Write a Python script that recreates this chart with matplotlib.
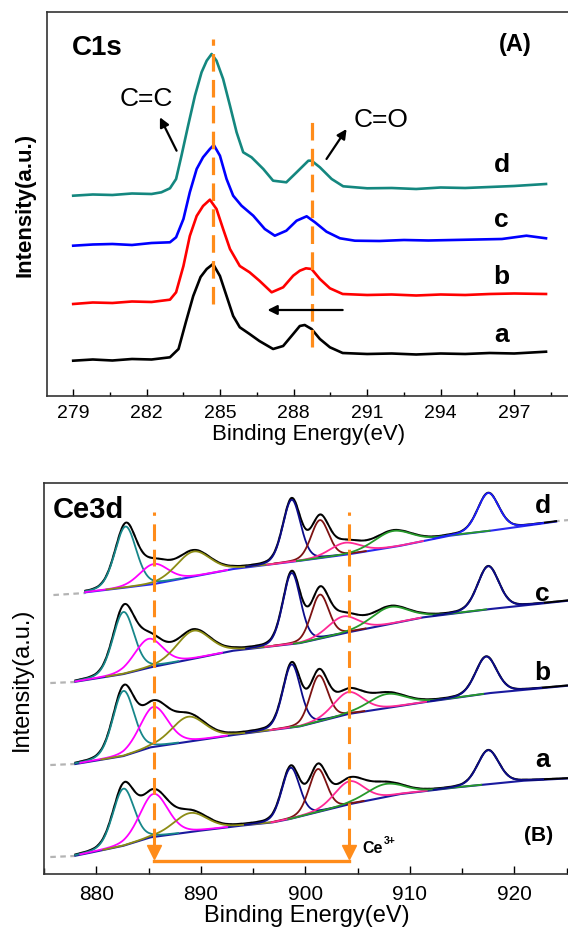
import numpy as np
import matplotlib.pyplot as plt
from matplotlib.ticker import MultipleLocator

plt.rcParams['font.family'] = ['Liberation Sans', 'DejaVu Sans']

# ---------------- (A) C1s, binding energy (eV) vs offset intensity (a.u.)
c1s_a_x = [279.0, 279.8, 280.6, 281.4, 282.2, 282.95, 283.3, 283.6, 283.9, 284.2, 284.45, 284.71,
           284.99, 285.26, 285.53, 285.8, 286.2, 286.6, 287.16, 287.57, 287.98, 288.25, 288.45,
           288.73, 289.07, 289.48, 290.0, 291.0, 292.0, 293.0, 294.0, 295.0, 296.0, 297.0, 298.3]
c1s_a_y = [35.3, 36.5, 35.5, 37.0, 36.5, 38.7, 47, 74, 100, 119, 127, 132,
           120, 100, 80, 68.7, 62, 55, 47, 50, 62, 70, 71,
           67, 57, 48.7, 43, 42, 42.5, 41.5, 42.5, 42, 43, 42.5, 44.3]

c1s_b_x = [279.0, 279.8, 280.6, 281.4, 282.2, 282.95, 283.2, 283.5, 283.76, 284.04, 284.3, 284.58,
           284.85, 285.12, 285.4, 285.8, 286.2, 286.6, 287.1, 287.57, 287.98, 288.25, 288.5,
           288.73, 289.07, 289.48, 290.0, 291.0, 292.0, 293.0, 294.0, 295.0, 296.0, 297.0, 298.3]
c1s_b_y = [92, 93.5, 93, 94.5, 94, 96.3, 103.7, 130, 160, 180, 190, 196.3,
           187, 167, 147, 130, 123.7, 115.3, 103.7, 108.7, 120.3, 125.3, 127.7,
           127, 117, 107.7, 102, 101, 101.5, 100.5, 101.5, 101, 102, 102.5, 102]

c1s_c_x = [279.0, 279.8, 280.6, 281.4, 282.2, 282.95, 283.2, 283.5, 283.76, 284.04, 284.3, 284.58,
           284.74, 284.99, 285.26, 285.53, 285.87, 286.35, 286.82, 287.23, 287.7, 288.12, 288.53,
           288.87, 289.34, 289.89, 290.5, 291.5, 292.5, 293.5, 294.5, 295.5, 296.5, 297.5, 298.3]
c1s_c_y = [150.3, 151.5, 152, 151, 153, 153.7, 158.7, 177, 203.7, 227, 238.7, 247,
           251, 240.3, 217, 200.3, 190.3, 180.3, 167, 160.3, 165.3, 175.3, 179.7,
           173.7, 164.3, 157.7, 155.3, 155, 156, 155.5, 156, 156.5, 157, 160.3, 157.7]

c1s_d_x = [279.0, 279.8, 280.6, 281.4, 282.2, 282.6, 282.95, 283.2, 283.42, 283.69, 283.97, 284.24,
           284.45, 284.65, 284.85, 285.12, 285.4, 285.67, 285.94, 286.28, 286.76, 287.16, 287.7,
           288.12, 288.6, 288.73, 289.07, 289.55, 290.02, 291.0, 292.0, 293.0, 294.0, 295.0,
           296.0, 297.0, 298.3]
c1s_d_y = [200.3, 201.5, 201, 202.5, 202, 203.7, 207.7, 217, 240.3, 270.3, 300.3, 323.7,
           335.3, 342, 335.3, 317, 290.3, 263.7, 243.7, 238.7, 227, 215.3, 213.7,
           223.7, 235.3, 235.3, 228.7, 217, 209.7, 207.7, 208, 207, 208.5, 208,
           209, 210, 212]

c1s_colors = ['black', '#ff0000', '#0000ff', '#14877f']
c1s_labels = ['a', 'b', 'c', 'd']
c1s_label_y = [62, 120, 177, 232]
c1s_marks = [284.69, 288.75]          # C=C and C=O positions
c1s_mark_top = [357, 279]
c1s_mark_bottom = [92, 49]

# ---------------- (B) Ce3d: fitted components (v, v', v'', v''', u, u', u'', u''')
ce_fwhm = [2.4, 3.2, 3.8, 2.0, 2.0, 3.4, 4.2, 2.4]
ce_lorentz = 0.2
ce_colors = ['#17878a', '#ff00ff', '#8c8c14', '#0c0c8a', '#7d1212', '#ff2a95', '#26992a', '#0c0c8a']

ce_a_centers = [882.6, 885.5, 889.0, 898.6, 901.2, 904.2, 907.6, 917.5]
ce_a_heights = [57, 43, 19, 51, 43, 23, 13, 34]
ce_a_bg_x = [878.0, 879.6, 882.6, 885.2, 889.9, 893.8, 896.9, 898.5, 901.7, 904.3, 909.1, 914.5, 920.9, 925.3]
ce_a_bg_y = [18.3, 21.7, 28.3, 36.7, 43.3, 48.3, 51.7, 55, 63.3, 70, 80, 86.7, 93.3, 95.7]

ce_b_centers = [882.6, 885.5, 888.8, 898.7, 901.3, 904.1, 907.8, 917.3]
ce_b_heights = [65, 40, 25, 63, 46, 22, 14, 37]
ce_b_bg_x = [878.0, 882.6, 885.2, 893.1, 899.5, 904.1, 911.3, 917.7, 925.3]
ce_b_bg_y = [110, 118, 126.7, 139, 147.7, 160, 171.7, 181, 188.5]

ce_c_centers = [882.6, 885.0, 889.3, 898.7, 901.4, 903.6, 908.1, 917.5]
ce_c_heights = [62, 29, 28, 71, 44, 17, 17, 43]
ce_c_bg_x = [878.0, 882.6, 885.2, 893.1, 899.5, 904.1, 911.3, 917.7, 925.3]
ce_c_bg_y = [192.3, 200, 206.7, 223.3, 231, 241.7, 256.7, 265, 273.5]

ce_d_centers = [882.8, 885.5, 889.3, 898.7, 901.4, 903.8, 908.4, 917.5]
ce_d_heights = [61, 20, 25, 62, 38, 12, 16, 38]
ce_d_bg_x = [878.95, 882.8, 885.5, 893.1, 899.5, 904.3, 909.1, 913.8, 917.7, 924.0]
ce_d_bg_y = [281.7, 286.5, 290, 305, 313.3, 320, 328.3, 338.3, 343.3, 352.5]

# raw data lead-in (gray) visible before the fits start
ce_raw_lead_x = [[875.6, 877.9], [875.6, 877.9], [875.6, 877.9], [875.9, 878.9]]
ce_raw_lead_y = [[17, 18], [109, 110], [191, 192], [279, 281]]

ce_labels = ['a', 'b', 'c', 'd']
ce_label_y = [115, 202, 281, 369]
ce3_marks = [885.55, 904.2]

fig = plt.figure(figsize=(5.68, 9.28), dpi=100)

# ======================= panel A
ax1 = fig.add_axes([0.0827, 0.5722, 0.920, 0.4138])
for xs, ys, col in zip([c1s_a_x, c1s_b_x, c1s_c_x, c1s_d_x],
                       [c1s_a_y, c1s_b_y, c1s_c_y, c1s_d_y], c1s_colors):
    ax1.plot(xs, ys, color=col, lw=1.9, solid_joinstyle='round')

for xm, yt, yb in zip(c1s_marks, c1s_mark_top, c1s_mark_bottom):
    ax1.plot([xm, xm], [yb, yt], color='#ff8c1a', lw=2.3, dashes=(5.5, 2.6), zorder=3)

for lab, ly in zip(c1s_labels, c1s_label_y):
    ax1.text(296.49, ly, lab, fontsize=19, fontweight='bold', ha='center', va='center')

ax1.text(278.95, 349, 'C1s', fontsize=20, fontweight='bold', ha='left', va='center')
ax1.text(297.03, 352, '(A)', fontsize=17, fontweight='bold', ha='center', va='center')
ax1.text(281.97, 298, 'C=C', fontsize=19, ha='center', va='center')
ax1.text(291.56, 277, 'C=O', fontsize=19, ha='center', va='center')
arw = dict(arrowstyle='-|>', color='black', lw=1.6, mutation_scale=14, shrinkA=0, shrinkB=0)
ax1.annotate('', xy=(282.54, 278.7), xytext=(283.22, 245.3), arrowprops=arw)
ax1.annotate('', xy=(290.16, 267), xytext=(289.34, 237), arrowprops=arw)
ax1.annotate('', xy=(286.93, 86), xytext=(290.0, 86), arrowprops=arw)

ax1.set_xlim(277.93, 299.26)
ax1.set_ylim(0, 384)
ax1.xaxis.set_major_locator(MultipleLocator(3))
ax1.xaxis.set_minor_locator(MultipleLocator(1.5))
ax1.set_yticks([])
ax1.tick_params(axis='x', which='major', direction='in', length=5, width=1.0, labelsize=14, pad=6)
ax1.tick_params(axis='x', which='minor', direction='in', length=3, width=1.0)
ax1.set_xlabel('Binding Energy(eV)', fontsize=16, labelpad=1)
ax1.set_ylabel('Intensity(a.u.)', fontsize=16, fontweight='bold', labelpad=8)
for sp in ax1.spines.values():
    sp.set_linewidth(1.2)
    sp.set_color('#333333')

# ======================= panel B
ax2 = fig.add_axes([0.0775, 0.0571, 0.9255, 0.4213])

spectra = [(ce_a_centers, ce_a_heights, ce_a_bg_x, ce_a_bg_y),
           (ce_b_centers, ce_b_heights, ce_b_bg_x, ce_b_bg_y),
           (ce_c_centers, ce_c_heights, ce_c_bg_x, ce_c_bg_y),
           (ce_d_centers, ce_d_heights, ce_d_bg_x, ce_d_bg_y)]

for k, (cen, hgt, bgx, bgy) in enumerate(spectra):
    e = np.linspace(bgx[0], bgx[-1], 800)
    bg = np.interp(e, bgx, bgy)
    comps = []
    for c, h, w in zip(cen, hgt, ce_fwhm):
        gauss = np.exp(-4 * np.log(2) * (e - c) ** 2 / w ** 2)
        lor = 1.0 / (1.0 + 4 * (e - c) ** 2 / w ** 2)
        comps.append(h * ((1 - ce_lorentz) * gauss + ce_lorentz * lor))
    env = bg + np.sum(comps, axis=0)
    # raw data (gray dashed)
    rx = list(ce_raw_lead_x[k]) + list(e)
    ry = list(ce_raw_lead_y[k]) + list(env)
    if k == 3:
        rx += [925.2]
        ry += [354]
    ax2.plot(rx, ry, color='#b4b4b4', lw=1.6, dashes=(2.5, 2.0), zorder=1)
    bg_col = '#2a2af0' if k == 3 else '#1a1a9e'
    ax2.plot(bgx, bgy, color=bg_col, lw=1.5, zorder=2)
    ax2.plot(e, env, color='black', lw=1.4, zorder=3)
    for j, (c, w, comp) in enumerate(zip(cen, ce_fwhm, comps)):
        col = ce_colors[j]
        if k == 3 and j == 7:
            col = '#1e1eff'
        m = np.abs(e - c) < 2.2 * w
        ax2.plot(e[m], (bg + comp)[m], color=col, lw=1.3, zorder=4)

for xm in ce3_marks:
    ax2.plot([xm, xm], [29, 362], color='#ff8c1a', lw=2.2, dashes=(5.5, 2.8), zorder=5)
    ax2.plot([xm], [22], marker='v', color='#ff8c1a', markersize=10, zorder=5)
ax2.plot(ce3_marks, [13, 13], color='#ff8c1a', lw=2.4, zorder=5)

for lab, ly in zip(ce_labels, ce_label_y):
    ax2.text(922.7, ly, lab, fontsize=19, fontweight='bold', ha='center', va='center')

ax2.text(875.8, 365.5, 'Ce3d', fontsize=21, fontweight='bold', ha='left', va='center')
ax2.text(922.3, 40, '(B)', fontsize=15, fontweight='bold', ha='center', va='center')
ax2.text(905.5, 27, 'Ce', fontsize=11.5, fontweight='bold', ha='left', va='center')
ax2.text(907.55, 34, '3+', fontsize=7.5, fontweight='bold', ha='left', va='center')

ax2.set_xlim(875.0, 925.3)
ax2.set_ylim(0, 391)
ax2.xaxis.set_major_locator(MultipleLocator(10))
ax2.xaxis.set_minor_locator(MultipleLocator(5))
ax2.set_yticks([])
ax2.tick_params(axis='x', which='major', direction='in', length=6, width=1.0, labelsize=15, pad=7)
ax2.tick_params(axis='x', which='minor', direction='in', length=4, width=1.0)
ax2.set_xlabel('Binding Energy(eV)', fontsize=17, labelpad=1)
ax2.set_ylabel('Intensity(a.u.)', fontsize=17, labelpad=8)
for sp in ax2.spines.values():
    sp.set_linewidth(1.2)
    sp.set_color('#333333')

fig.savefig('out.png', dpi=100)
